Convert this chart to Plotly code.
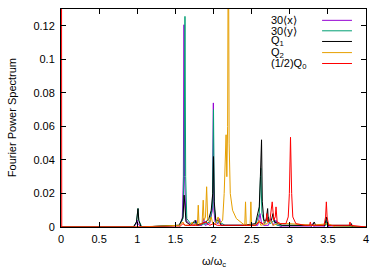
import plotly.graph_objects as go

# ---- data (omega/omega_c, power) ----
x30_points = [(0,0),(0.95,0),(0.99,0.002),(1.0,0.004),(1.01,0.002),(1.05,0),(1.55,0.001),(1.59,0.004),
              (1.605,0.03),(1.613,0.1206),(1.62,0.03),(1.64,0.004),(1.68,0.002),(1.75,0.001),(1.77,0.004),
              (1.79,0.001),(1.85,0.001),(1.87,0.005),(1.89,0.001),(1.95,0.002),(1.985,0.01),(1.998,0.074),
              (2.005,0.01),(2.02,0.003),(2.06,0.002),(2.08,0.005),(2.10,0.001),(2.2,0.001),(2.58,0.001),
              (2.61,0.008),(2.63,0.002),(2.66,0.001),(2.72,0.001),(2.75,0.005),(2.78,0.001),(2.82,0.004),
              (2.85,0.001),(2.9,0),(3.28,0),(3.3,0.002),(3.32,0),(3.45,0),(3.48,0.003),(3.51,0),(4.0,0)]
y30_points = [(0,0),(0.95,0),(0.99,0.003),(1.0,0.008),(1.01,0.011),(1.02,0.004),(1.06,0),(1.55,0.001),
              (1.6,0.005),(1.615,0.04),(1.626,0.1256),(1.635,0.03),(1.65,0.005),(1.7,0.002),(1.78,0.003),
              (1.8,0.001),(1.9,0.002),(1.95,0.003),(1.985,0.012),(2.0,0.07),(2.01,0.012),(2.03,0.003),
              (2.08,0.003),(2.15,0.001),(2.55,0.001),(2.6,0.008),(2.62,0.035),(2.635,0.008),(2.67,0.002),
              (2.72,0.006),(2.74,0.002),(2.8,0.004),(2.83,0.001),(2.9,0.001),(3.3,0.001),(3.47,0.001),
              (3.48,0.004),(3.49,0.001),(4.0,0)]
q1_points = [(0,0),(0.95,0),(0.99,0.003),(1.0,0.007),(1.01,0.011),(1.02,0.004),(1.05,0),(1.55,0.001),
             (1.6,0.006),(1.615,0.019),(1.625,0.012),(1.64,0.003),(1.7,0.001),(1.76,0.004),(1.78,0.001),
             (1.85,0.002),(1.9,0.003),(1.94,0.005),(1.97,0.01),(1.99,0.02),(2.0,0.042),(2.01,0.015),
             (2.03,0.004),(2.07,0.004),(2.1,0.001),(2.2,0.001),(2.4,0.001),(2.55,0.002),(2.6,0.012),
             (2.615,0.03),(2.63,0.052),(2.64,0.015),(2.66,0.004),(2.69,0.004),(2.71,0.011),(2.72,0.003),
             (2.76,0.004),(2.78,0.008),(2.8,0.003),(2.85,0.002),(2.9,0.001),(3.0,0.001),(3.3,0.001),
             (3.32,0.003),(3.34,0.001),(3.46,0.001),(3.48,0.006),(3.5,0.001),(3.8,0.001),(3.81,0.002),
             (3.82,0),(4.0,0)]
q2_points = [(0,0),(1.0,0),(1.55,0.001),(1.6,0.003),(1.62,0.001),(1.7,0.001),(1.72,0.003),(1.74,0.001),
             (1.79,0.002),(1.80,0.013),(1.81,0.002),(1.85,0.002),(1.865,0.016),(1.875,0.004),(1.895,0.006),
             (1.91,0.024),(1.925,0.004),(1.95,0.003),(1.97,0.006),(1.99,0.002),(2.03,0.002),(2.06,0.006),
             (2.08,0.002),(2.12,0.004),(2.14,0.02),(2.155,0.04),(2.165,0.055),(2.175,0.03),(2.185,0.06),
             (2.195,0.2),(2.205,0.05),(2.22,0.02),(2.25,0.01),(2.3,0.005),(2.38,0.002),(2.41,0.001),
             (2.42,0.015),(2.43,0.001),(2.48,0.001),(2.49,0.015),(2.50,0.001),(2.55,0.001),(2.6,0.004),
             (2.62,0.001),(2.7,0.002),(2.75,0.004),(2.78,0.001),(2.85,0.002),(3.0,0.002),(3.3,0.001),
             (3.5,0.002),(3.6,0),(4.0,0)]
q0_half_points = [(0,0.5),(0.005,0.02),(0.01,0),(1.0,0),(1.55,0),(1.6,0.002),(1.63,0.001),(1.8,0.001),
                  (1.9,0.003),(1.95,0.001),(2.0,0.002),(2.05,0.001),(2.2,0.001),(2.4,0.001),(2.55,0.001),
                  (2.6,0.003),(2.65,0.002),(2.69,0.004),(2.7,0.008),(2.71,0.003),(2.74,0.004),(2.77,0.015),
                  (2.79,0.004),(2.81,0.006),(2.82,0.012),(2.835,0.003),(2.88,0.002),(2.95,0.002),(2.98,0.006),
                  (2.995,0.02),(3.01,0.0535),(3.025,0.02),(3.04,0.006),(3.08,0.002),(3.2,0.001),(3.26,0.001),
                  (3.27,0.003),(3.28,0.001),(3.45,0.001),(3.47,0.006),(3.48,0.015),(3.49,0.006),(3.51,0.001),
                  (3.7,0.001),(3.78,0.001),(3.79,0.003),(3.8,0.001),(4.0,0)]

series_names = ["30⟨x⟩", "30⟨y⟩", "Q<sub>1</sub>", "Q<sub>2</sub>", "(1/2)Q<sub>0</sub>"]
series_colors = ["#9400d3", "#009e73", "#000000", "#e69f00", "#ff0000"]
series_points = [x30_points, y30_points, q1_points, q2_points, q0_half_points]

x_ticks = [0, 0.5, 1, 1.5, 2, 2.5, 3, 3.5, 4]
y_ticks = [0, 0.02, 0.04, 0.06, 0.08, 0.1, 0.12]

FONT = "Liberation Sans, Arial, sans-serif"
FS = 11

fig = go.Figure()
for name, color, pts in zip(series_names, series_colors, series_points):
    xs = [p[0] for p in pts]
    ys = [p[1] for p in pts]
    fig.add_trace(go.Scatter(x=xs, y=ys, mode="lines", name=name, hoverinfo="skip",
                             line=dict(color=color, width=1), showlegend=False))

# gnuplot-style legend: text on the left, line sample on the right
leg_y = [0.948, 0.900, 0.851, 0.800, 0.750]
for name, color, yy in zip(series_names, series_colors, leg_y):
    fig.add_annotation(x=0.683, y=yy, xref="paper", yref="paper", text=name, showarrow=False,
                       xanchor="left", yanchor="middle", font=dict(family=FONT, size=FS, color="#000"))
    fig.add_shape(type="line", xref="paper", yref="paper", x0=0.856, x1=0.954, y0=yy, y1=yy,
                  line=dict(color=color, width=1))

# axis titles
fig.add_annotation(x=0.5, y=-0.16, xref="paper", yref="paper", text="ω/ω<sub>c</sub>", showarrow=False,
                   xanchor="center", yanchor="middle", font=dict(family=FONT, size=FS, color="#000"))
fig.add_annotation(x=-0.16, y=0.5, xref="paper", yref="paper", text="Fourier Power Spectrum",
                   showarrow=False, textangle=-90, xanchor="center", yanchor="middle",
                   font=dict(family=FONT, size=FS, color="#000"))

axis_common = dict(showline=True, linecolor="#000", linewidth=1, mirror="ticks", ticks="inside",
                   ticklen=5, tickcolor="#000", showgrid=False, zeroline=False, automargin=False,
                   tickfont=dict(family=FONT, size=FS, color="#000"))

fig.update_layout(
    width=390, height=273,
    margin=dict(l=61, r=24, t=9, b=46),
    paper_bgcolor="white", plot_bgcolor="white",
    hovermode=False,
    xaxis=dict(range=[0, 4], tickvals=x_ticks, ticktext=[f"{v:g}" for v in x_ticks],
               ticklabelstandoff=2, **axis_common),
    yaxis=dict(range=[0, 0.13], tickvals=y_ticks, ticktext=[f"{v:g}" for v in y_ticks],
               ticklabelstandoff=3, **axis_common),
)

fig.write_html("out.html", config={"displayModeBar": False, "staticPlot": True},
               post_script="document.body.style.margin='0';document.body.style.overflow='hidden';")
